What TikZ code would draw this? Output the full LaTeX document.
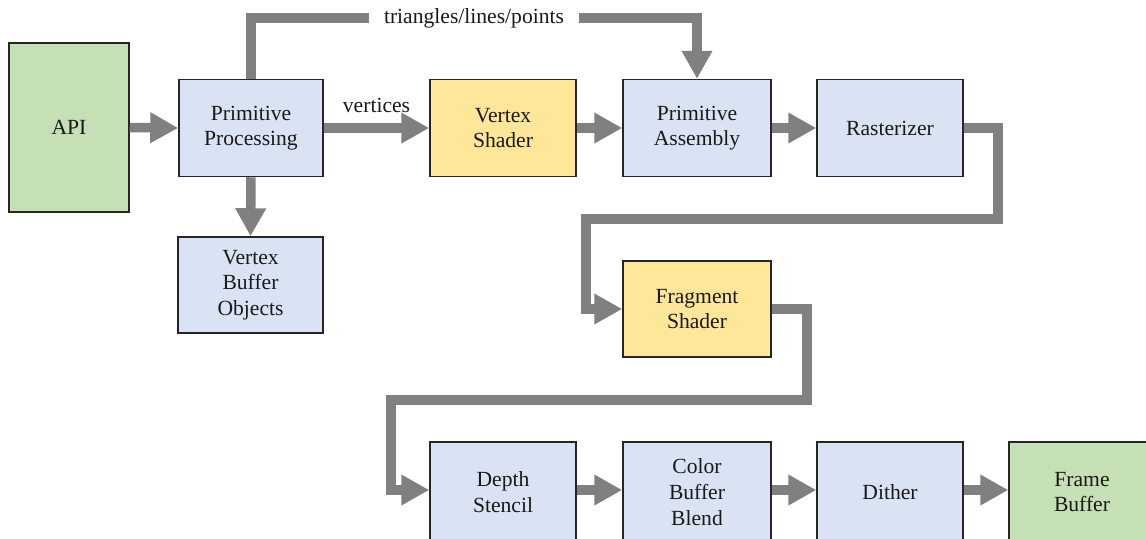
\documentclass[tikz,border=0pt]{standalone}
\usepackage{fontspec}
\setmainfont{Liberation Serif}
\usetikzlibrary{arrows.meta}
\definecolor{boxblue}{RGB}{218,227,243}
\definecolor{boxyellow}{RGB}{255,230,153}
\definecolor{boxgreen}{RGB}{197,224,180}
\definecolor{edgecol}{RGB}{38,38,38}
\definecolor{flowcol}{RGB}{128,128,128}
\begin{document}
\begin{tikzpicture}[x=0.5pt, y=-0.5pt,
  stage/.style={draw=edgecol, line width=0.75pt, inner sep=0pt, align=center,
    font=\fontsize{10.8}{12.8}\selectfont, text=black!90,
    minimum width=73pt, minimum height=48.5pt},
  bluebox/.style={stage, fill=boxblue},
  yellowbox/.style={stage, fill=boxyellow},
  greenbox/.style={stage, fill=boxgreen},
  flowline/.style={draw=flowcol, line width=4.75pt, line join=miter},
  flowarrow/.style={flowline, -{Triangle[length=14pt, width=14.5pt]}},
  lbl/.style={font=\fontsize{10.8}{12.8}\selectfont, text=black!90, inner sep=0pt},
]
\useasboundingbox (0,0) rectangle (1146,538);

% first row: geometry stages
\node[greenbox, minimum width=60pt, minimum height=84.5pt] (api) at (69,127.5) {API};
\node[bluebox, minimum width=72pt] (pp) at (251,128) {Primitive\\Processing};
\node[yellowbox] (vs) at (503,128) {Vertex\\Shader};
\node[bluebox, minimum width=74pt] (pa) at (697,128) {Primitive\\Assembly};
\node[bluebox] (ras) at (890,128) {Rasterizer};
\node[bluebox, minimum width=72.5pt, minimum height=48pt] (vbo) at (250.5,285) {Vertex\\Buffer\\Objects};

% second row
\node[yellowbox, minimum width=74pt, minimum height=48pt] (fs) at (697,309) {Fragment\\Shader};

% third row: per-fragment operations, running past the lower edge
\node[bluebox, minimum height=50pt] (ds) at (503,492) {Depth\\Stencil};
\node[bluebox, minimum width=74pt, minimum height=50pt] (cbb) at (697,492) {Color\\Buffer\\Blend};
\node[bluebox, minimum height=50pt] (dith) at (890,492) {Dither};
\node[greenbox, minimum height=50pt] (fb) at (1082,492) {Frame\\Buffer};

% connectors
\draw[flowarrow] (api.east) -- (pp.west);
\draw[flowarrow] (pp.east) -- node[lbl, yshift=11.5pt] {vertices} (vs.west);
\draw[flowarrow] (vs.east) -- (pa.west);
\draw[flowarrow] (pa.east) -- (ras.west);
\draw[flowarrow] (pp.south) -- (vbo.north);
\draw[flowarrow] (pp.north) -- (pp.north |- 0,18)
  -- node[lbl, fill=white, inner xsep=7.5pt, inner ysep=2pt] {triangles/lines/points} (pa.north |- 0,18)
  -- (pa.north);
\draw[flowarrow] (ras.east) -| (998,219) -| (586,309) -- (fs.west);
\draw[flowarrow] (fs.east) -| (807,400) -| (391,490) -- (ds.west |- 0,490);
\draw[flowarrow] (ds.east |- 0,490) -- (cbb.west |- 0,490);
\draw[flowarrow] (cbb.east |- 0,490) -- (dith.west |- 0,490);
\draw[flowarrow] (dith.east |- 0,490) -- (fb.west |- 0,490);
\end{tikzpicture}
\end{document}
